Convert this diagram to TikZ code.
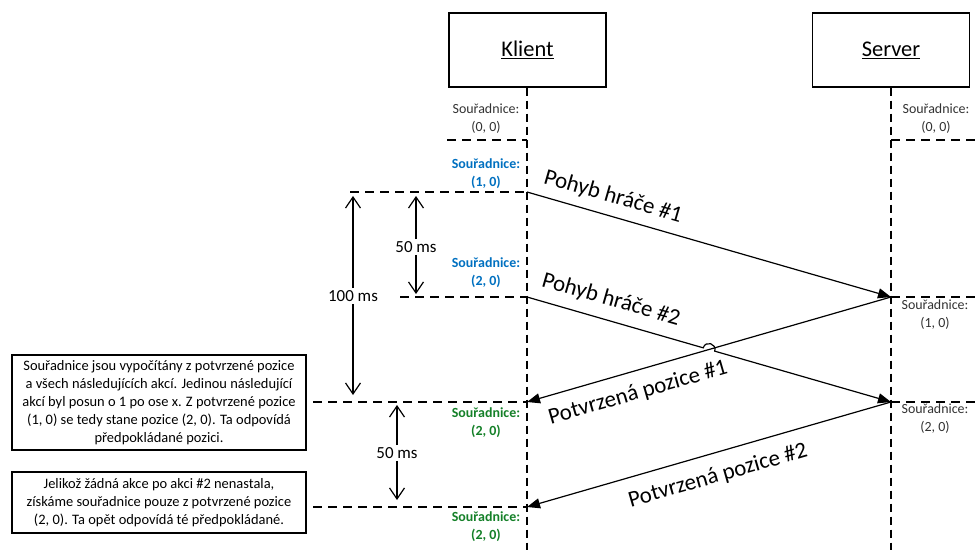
\documentclass[tikz,border=0pt]{standalone}
\usepackage{fontspec}
\setmainfont{Carlito}
\usetikzlibrary{arrows.meta,calc}
\definecolor{coordblue}{RGB}{0,112,192}
\definecolor{coordgreen}{RGB}{20,128,40}
\definecolor{coordgray}{RGB}{50,50,50}
\begin{document}
\begin{tikzpicture}[x=1bp,y=-1bp,
  actor/.style={draw,line width=1.3bp,minimum width=157bp,minimum height=74bp,inner sep=0pt,
    font=\fontsize{22.5}{27}\selectfont},
  lifeline/.style={line width=1.2bp,dash pattern=on 8bp off 5bp},
  marker/.style={line width=1.2bp,dash pattern=on 9bp off 6bp},
  msg/.style={line width=1.2bp,-{Triangle[length=13bp,width=10bp]}},
  msglabel/.style={font=\fontsize{23}{27}\selectfont,inner sep=0pt},
  coord/.style={align=center,inner sep=0pt,text=coordgray,font=\fontsize{14}{18}\selectfont},
  coordB/.style={align=center,inner sep=0pt,text=coordblue,font=\fontsize{14}{18}\selectfont\bfseries},
  coordG/.style={align=center,inner sep=0pt,text=coordgreen,font=\fontsize{14}{18}\selectfont\bfseries},
  timing/.style={line width=1.2bp,-{Straight Barb[length=11bp,width=15bp]}},
  timelabel/.style={font=\fontsize{17}{20}\selectfont,fill=white,inner sep=2bp},
  note/.style={draw,line width=1.8bp,minimum width=294bp,inner sep=0pt,align=center,
    font=\fontsize{14.5}{18}\selectfont}
]
\useasboundingbox (0,0) rectangle (975,550);

% participants
\node[actor] (klient) at (527.5,50) {\underline{Klient}};
\node[actor] (server) at (891,50) {\underline{Server}};

% lifelines
\coordinate (kend) at (527,550);
\coordinate (send) at (891,550);
\draw[lifeline] (klient.south -| kend) -- (kend);
\draw[lifeline] (server.south -| send) -- (send);

% points on the client lifeline
\coordinate (k0) at (527,140);
\coordinate (k1) at (527,192);
\coordinate (k2) at (527,297);
\coordinate (k3) at (527,402);
\coordinate (k4) at (527,507);
% points on the server lifeline
\coordinate (s0) at (891,140);
\coordinate (s1) at (891,297);
\coordinate (s2) at (891,402);

% left ends of the time markers
\coordinate (k0l) at (447,140);
\coordinate (k1l) at (350,192);
\coordinate (k2l) at (400,297);
\coordinate (k3l) at (313,402);
\coordinate (k4l) at (313,507);
% right ends of the server markers
\coordinate (s0r) at (975,140);
\coordinate (s1r) at (975,297);
\coordinate (s2r) at (975,402);

\draw[marker] (k0l) -- (k0);
\draw[marker] (k1l) -- (k1);
\draw[marker] (k2l) -- (k2);
\draw[marker] (k3l) -- (k3);
\draw[marker] (k4l) -- (k4);
\draw[marker] (s0) -- (s0r);
\draw[marker] (s1) -- (s1r);
\draw[marker] (s2) -- (s2r);

% messages
\draw[msg] (k1) -- (s1);
\coordinate (X) at ($(k2)!0.5!(s2)$);
\draw[msg] (k2) -- ($(X)+(-5.76,-1.66)$)
  .. controls ($(X)+(-3.54,-9.34)$) and ($(X)+(7.98,-6.02)$) .. ($(X)+(5.76,1.66)$) -- (s2);
\draw[msg] (s1) -- (k3);
\draw[msg] (s2) -- (k4);

\node[msglabel,rotate=-16.1] (m1) at (613,197) {Pohyb hráče \#1};
\node[msglabel,rotate=-16.1] (m2) at (611,300) {Pohyb hráče \#2};
\node[msglabel,rotate=16.1] (m3) at (638,393) {Potvrzená pozice \#1};
\node[msglabel,rotate=16.1] (m4) at (718,476) {Potvrzená pozice \#2};

% coordinates on the client side
\node[coord]  (ck0) at (486,119) {Souřadnice:\\(0, 0)};
\node[coordB] (ck1) at (486,174) {Souřadnice:\\(1, 0)};
\node[coordB] (ck2) at (486,273) {Souřadnice:\\(2, 0)};
\node[coordG] (ck3) at (486,423) {Souřadnice:\\(2, 0)};
\node[coordG] (ck4) at (486,527) {Souřadnice:\\(2, 0)};
% coordinates on the server side
\node[coord] (cs0) at (936,119) {Souřadnice:\\(0, 0)};
\node[coord] (cs1) at (935,315) {Souřadnice:\\(1, 0)};
\node[coord] (cs2) at (935,419) {Souřadnice:\\(2, 0)};

% time spans
\coordinate (t100top) at (353,196);
\coordinate (t100bot) at (353,395);
\node[timelabel] (t100) at (353,296) {100 ms};
\draw[timing] (t100) -- (t100top);
\draw[timing] (t100) -- (t100bot);

\coordinate (t50atop) at (416,196);
\coordinate (t50abot) at (416,294);
\node[timelabel] (t50a) at (416,247) {50 ms};
\draw[timing] (t50a) -- (t50atop);
\draw[timing] (t50a) -- (t50abot);

\coordinate (t50btop) at (397,405);
\coordinate (t50bbot) at (397,500);
\node[timelabel] (t50b) at (397,453) {50 ms};
\draw[timing] (t50b) -- (t50btop);
\draw[timing] (t50b) -- (t50bbot);

% explanatory notes
\node[note,minimum height=95bp] (note1) at (159,402.5)
  {Souřadnice jsou vypočítány z potvrzené pozice\\a všech následujících akcí. Jedinou následující\\akcí byl posun o 1 po ose x. Z potvrzené pozice\\(1, 0) se tedy stane pozice (2, 0). Ta odpovídá\\předpokládané pozici.};
\node[note,minimum height=61bp] (note2) at (159,502.5)
  {Jelikož žádná akce po akci \#2 nenastala,\\získáme souřadnice pouze z potvrzené pozice\\(2, 0). Ta opět odpovídá té předpokládané.};
\end{tikzpicture}
\end{document}
